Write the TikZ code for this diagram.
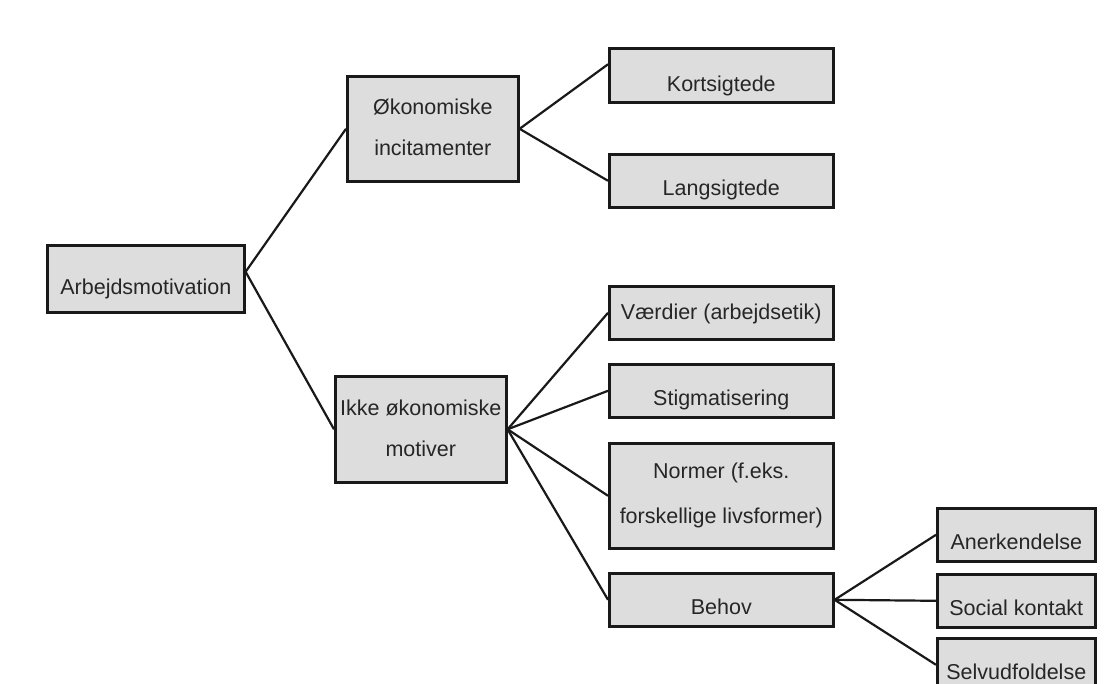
\documentclass[tikz,border=0pt]{standalone}
\usepackage{fontspec}
\setmainfont{Liberation Sans}
\definecolor{boksgraa}{RGB}{221,221,221}
\begin{document}
\begin{tikzpicture}[x=1pt, y=-1pt,
    boks/.style={draw=black!90, line width=2.6pt, fill=boksgraa, anchor=north west,
        inner xsep=0pt, inner ysep=0pt, align=center,
        font=\fontsize{21.5}{41}\selectfont, text=black!85,
        text height=41pt, text depth=12pt},
    streg/.style={line width=2.2pt, black!90}]
    \useasboundingbox (0,0) rectangle (1107,684);

    % Level 1
    \node[boks, minimum width=197pt, text height=49pt, text depth=18pt] (arbejds) at (46,244) {Arbejdsmotivation};

    % Level 2
    \node[boks, minimum width=171pt, text height=79pt, text depth=26pt] (okon) at (346,75) {Økonomiske\\incitamenter};
    \node[boks, minimum width=171pt, text height=80pt, text depth=26pt] (ikke) at (334,375) {Ikke økonomiske\\motiver};

    % Level 3
    \node[boks, minimum width=224pt, text height=43pt, text depth=11pt] (kort) at (608,47) {Kortsigtede};
    \node[boks, minimum width=224pt] (lang) at (608,153) {Langsigtede};
    \node[boks, minimum width=224pt, text height=33pt, text depth=20pt] (vaerdi) at (608,285) {Værdier (arbejdsetik)};
    \node[boks, minimum width=224pt] (stigma) at (608,363) {Stigmatisering};
    \node[boks, minimum width=224pt, font=\fontsize{21.5}{45}\selectfont, text height=80pt, text depth=25pt] (normer) at (608,442) {Normer (f.eks.\\forskellige livsformer)};
    \node[boks, minimum width=224pt] (behov) at (608,572) {Behov};

    % Level 4
    \node[boks, minimum width=158pt] (aner) at (936,507) {Anerkendelse};
    \node[boks, minimum width=158pt] (social) at (936,573) {Social kontakt};
    \node[boks, minimum width=158pt] (selv) at (936,637) {Selvudfoldelse};

    % Connections
    \draw[streg] ([yshift=7pt]arbejds.east) -- (okon.west);
    \draw[streg] ([yshift=7pt]arbejds.east) -- (ikke.west);
    \draw[streg] (okon.east) -- ([yshift=11pt]kort.west);
    \draw[streg] (okon.east) -- (lang.west);
    \foreach \b in {vaerdi,stigma,normer,behov}
        \draw[streg] (ikke.east) -- (\b.west);
    \foreach \b in {aner,social,selv}
        \draw[streg] (behov.east) -- (\b.west);
\end{tikzpicture}
\end{document}
